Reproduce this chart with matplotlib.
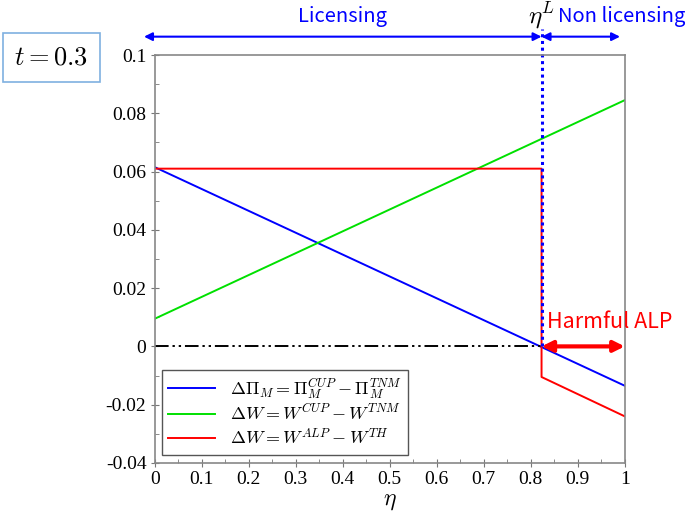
import matplotlib
matplotlib.use("Agg")
from matplotlib import pyplot as plt
from matplotlib.ticker import MultipleLocator, FuncFormatter

plt.rcParams['mathtext.fontset'] = 'cm'

# data
eta = [0.0, 1.0]
d_pi = [0.0615, -0.0135]
d_w_cup = [0.0095, 0.0845]
eta_red = [0.0, 0.823, 0.823, 1.0]
d_w_alp = [0.061, 0.061, -0.0105, -0.024]
eta_L = 0.823
t_value = 0.3

fig = plt.figure(figsize=(6.85, 5.19), dpi=100)
ax = fig.add_axes([0.226, 0.108, 0.686, 0.786])

ax.plot(eta, d_pi, color='#0000ff', lw=1.4, label=r'$\Delta\Pi_M=\Pi_M^{CUP}-\Pi_M^{TNM}$')
ax.plot(eta, d_w_cup, color='#00e000', lw=1.4, label=r'$\Delta W=W^{CUP}-W^{TNM}$')
ax.plot(eta_red, d_w_alp, color='#ff0000', lw=1.4, label=r'$\Delta W=W^{ALP}-W^{TH}$')
ax.plot([0, eta_L], [0, 0], color='black', lw=1.4, dashes=[7, 2, 1.2, 2, 1.2, 2])

# threshold line, goes above the axes
ax.plot([eta_L, eta_L], [0, 0.109], color='#0000ff', lw=2.2, ls=(0, (1, 1.2)), clip_on=False)

ax.set_xlim(0, 1)
ax.set_ylim(-0.04, 0.1)
ax.xaxis.set_major_locator(MultipleLocator(0.1))
ax.xaxis.set_minor_locator(MultipleLocator(0.05))
ax.yaxis.set_major_locator(MultipleLocator(0.02))
ax.yaxis.set_minor_locator(MultipleLocator(0.01))

def fmt(v, pos):
    s = f"{v:.2f}".rstrip('0').rstrip('.')
    return '0' if s in ('-0', '0') else s

ax.xaxis.set_major_formatter(FuncFormatter(fmt))
ax.yaxis.set_major_formatter(FuncFormatter(fmt))
for lab in ax.get_xticklabels() + ax.get_yticklabels():
    lab.set_fontfamily('Liberation Serif')
ax.tick_params(which='major', direction='inout', length=6, color='#777777', labelsize=14, pad=3)
ax.tick_params(which='minor', direction='in', length=3, color='#777777')
for sp in ax.spines.values():
    sp.set_color('#888888')
    sp.set_linewidth(1.2)
ax.set_xlabel(r'$\eta$', fontsize=17, labelpad=0)

leg = ax.legend(loc='lower left', bbox_to_anchor=(0.015, 0.02), borderaxespad=0, fontsize=13,
                fancybox=False, edgecolor='#555555', framealpha=1, handlelength=2.6,
                borderpad=0.35, labelspacing=0.2, handletextpad=0.8)
leg.get_frame().set_linewidth(1.0)

# regions above the axes
y_arrow = 0.1063
ax.annotate('', xy=(-0.023, y_arrow), xytext=(eta_L, y_arrow), annotation_clip=False,
            arrowprops=dict(arrowstyle='<|-|>', color='#0000ff', lw=1.5, mutation_scale=12,
                            shrinkA=0, shrinkB=0))
ax.annotate('', xy=(eta_L, y_arrow), xytext=(0.99, y_arrow), annotation_clip=False,
            arrowprops=dict(arrowstyle='<|-|>', color='#0000ff', lw=1.5, mutation_scale=12,
                            shrinkA=0, shrinkB=0))
ax.text(0.4, 0.1112, 'Licensing', color='#0000ff', fontsize=14.5, ha='center', va='baseline',
        family=['Noto Sans CJK JP', 'DejaVu Sans'])
ax.text(eta_L, 0.1108, r'$\eta^L$', color='black', fontsize=18, ha='center', va='baseline')
ax.text(0.858, 0.1112, 'Non licensing', color='#0000ff', fontsize=14.5, ha='left', va='baseline',
        family=['Noto Sans CJK JP', 'DejaVu Sans'])

# harmful region
ax.annotate('', xy=(eta_L, 0), xytext=(1.0, 0), annotation_clip=False,
            arrowprops=dict(arrowstyle='<|-|>', color='#ff0000', lw=3, mutation_scale=16,
                            shrinkA=0, shrinkB=0))
ax.text(0.835, 0.0045, 'Harmful ALP', color='#ff0000', fontsize=15.5, ha='left', va='bottom',
        family=['Noto Sans CJK JP', 'DejaVu Sans'], clip_on=False)

fig.text(0.075, 0.889, rf'$t = {t_value}$', fontsize=19, ha='center', va='center',
         bbox=dict(boxstyle='square,pad=0.45', fc='white', ec='#7fb0e0', lw=1.2))

fig.savefig('out.png', dpi=100)
